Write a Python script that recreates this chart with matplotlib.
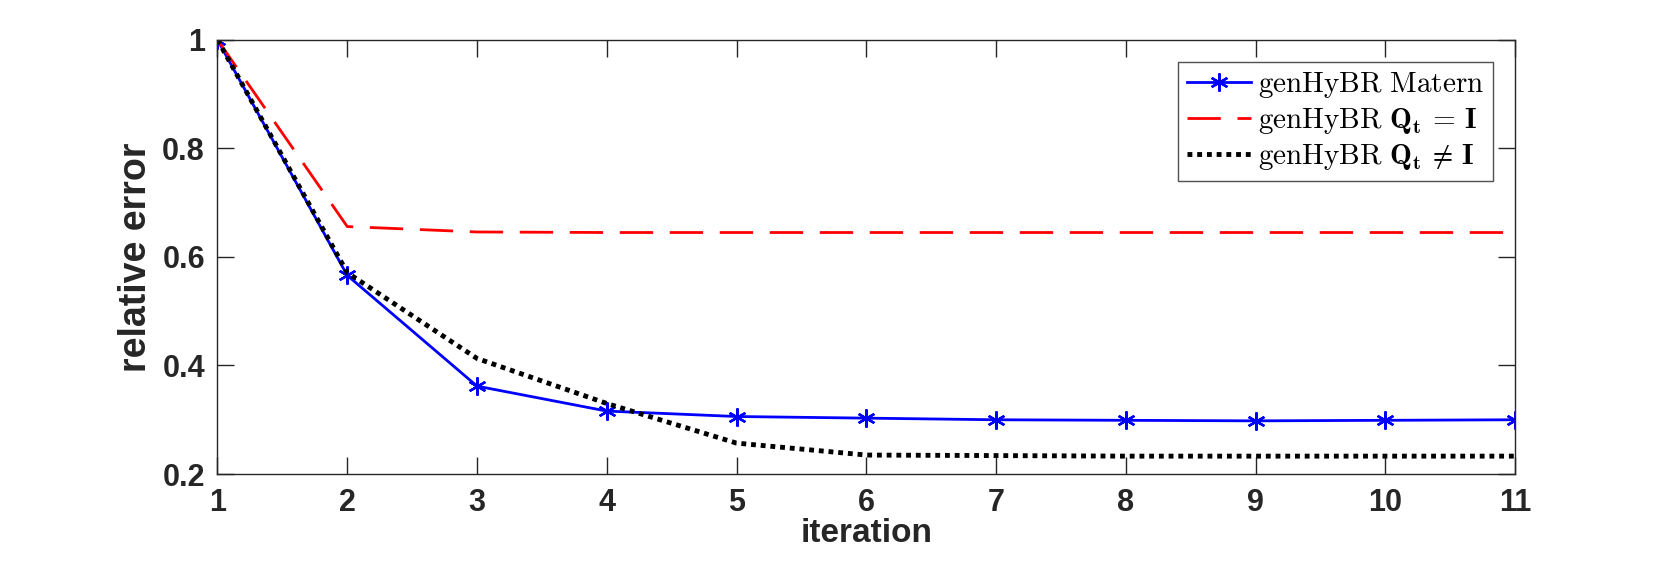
import matplotlib
matplotlib.use("Agg")
import matplotlib.pyplot as plt

plt.rcParams['mathtext.fontset'] = 'cm'

iterations = [1, 2, 3, 4, 5, 6, 7, 8, 9, 10, 11]
matern = [1.0, 0.566, 0.362, 0.316, 0.306, 0.303, 0.300, 0.299, 0.298, 0.299, 0.300]
qt_identity = [1.0, 0.656, 0.646, 0.645, 0.645, 0.645, 0.645, 0.645, 0.645, 0.645, 0.645]
qt_not_identity = [1.0, 0.571, 0.413, 0.330, 0.257, 0.235, 0.234, 0.233, 0.233, 0.233, 0.233]
xticks = list(range(1, 12))
yticks = [0.2, 0.4, 0.6, 0.8, 1.0]
yticklabels = ["0.2", "0.4", "0.6", "0.8", "1"]

fig = plt.figure(figsize=(16.73, 5.61), dpi=100)
ax = fig.add_axes([0.1300, 0.155, 0.7756, 0.774])

ax.plot(iterations, matern, color='#0000ff', lw=2.0, marker=(6, 2, 0), markersize=13,
        markeredgewidth=1.7, label=r'$\mathrm{genHyBR\ Matern}$')
ax.plot(iterations, qt_identity, color='#ff0000', lw=2.0, ls=(0, (12, 6)),
        label=r'$\mathrm{genHyBR}\ \mathbf{Q_t}\,=\,\mathbf{I}$')
ax.plot(iterations, qt_not_identity, color='black', lw=3.5, ls=(0, (1, 1)),
        label=r'$\mathrm{genHyBR}\ \mathbf{Q_t}\,\neq\,\mathbf{I}$')

ax.set_xlim(1, 11)
ax.set_ylim(0.2, 1.0)
ax.set_xticks(xticks)
ax.set_yticks(yticks)
ax.set_yticklabels(yticklabels)

axis_color = '#262626'
for s in ax.spines.values():
    s.set_color(axis_color)
    s.set_linewidth(1.0)
ax.tick_params(direction='in', length=12, width=1.0, color=axis_color,
               top=True, right=True, labelsize=22, labelcolor=axis_color)
ax.tick_params(axis='x', pad=10)
ax.tick_params(axis='y', pad=9)
for lab in ax.get_xticklabels() + ax.get_yticklabels():
    lab.set_fontweight('bold')
    lab.set_family('Liberation Sans')

ax.set_xlabel('iteration', fontsize=24, fontweight='bold', family='Liberation Sans',
              color=axis_color, labelpad=0)
ax.set_ylabel('relative error', fontsize=27, fontweight='bold', family='Liberation Sans',
              color=axis_color, labelpad=6)

leg = ax.legend(loc='upper right', fontsize=21, frameon=True, fancybox=False,
                edgecolor=axis_color, bbox_to_anchor=(1.0, 1.0),
                bbox_transform=ax.transAxes, borderaxespad=0.75, handlelength=2.2,
                labelspacing=0.2, borderpad=0.3, handletextpad=0.25)
leg.get_frame().set_linewidth(1.0)

fig.savefig('out.png', dpi=100, facecolor='white')
